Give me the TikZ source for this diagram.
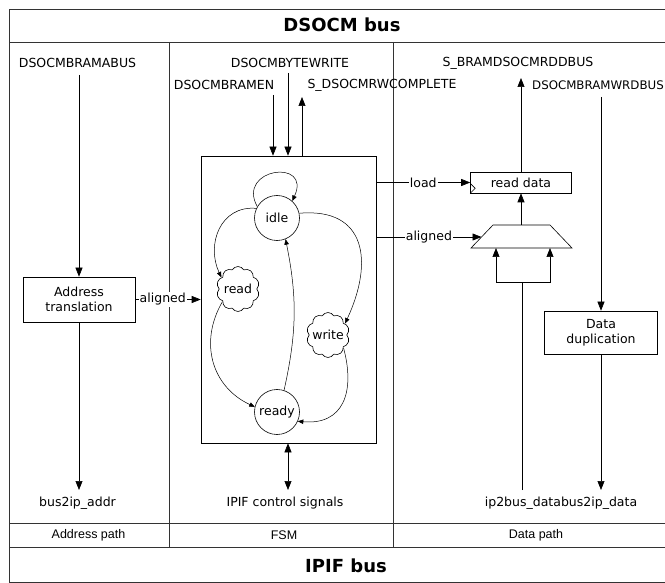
\documentclass[tikz,border=0pt]{standalone}
\usepackage{fontspec}
\setmainfont{DejaVu Sans}
\newfontfamily\arialfont{Liberation Sans}
\usetikzlibrary{arrows.meta,shapes.symbols,calc}
\begin{document}
\begin{tikzpicture}[x=1pt,y=-1pt,
  lbl/.style={font=\fontsize{12.5}{14}\selectfont, inner sep=1pt},
  rowlbl/.style={font=\arialfont\fontsize{12.5}{14}\selectfont, inner sep=1pt},
  titlelbl/.style={font=\bfseries\fontsize{18}{20}\selectfont, inner sep=1pt},
  box/.style={draw, line width=0.6pt, align=center, inner sep=1pt,
    font=\fontsize{12.5}{15}\selectfont},
  state/.style={draw, circle, line width=0.6pt, minimum size=45pt, inner sep=0pt,
    font=\fontsize{12.5}{14}\selectfont},
  cloudst/.style={draw, cloud, cloud puffs=10, cloud puff arc=120, aspect=1,
    minimum width=43pt, minimum height=45pt, inner sep=0pt, line width=0.6pt,
    label={[font=\fontsize{12.5}{14}\selectfont, inner sep=0pt]center:#1}},
  frameline/.style={line width=0.8pt, draw=black!80},
  wire/.style={line width=0.6pt},
  arr/.style={wire, -{Triangle[length=9pt,width=7pt]}},
  dblarr/.style={wire, {Triangle[length=9pt,width=7pt]}-{Triangle[length=9pt,width=7pt]}},
  sarr/.style={line width=0.5pt, -{Triangle[length=5.5pt,width=4.5pt]}},
  tag/.style={font=\fontsize{12.5}{14}\selectfont, fill=white, inner sep=1pt}
]
\useasboundingbox (0,0) rectangle (665,583);

% frame and rows
\draw[frameline] (9,9) rectangle (680,582);
\draw[frameline] (9,42) -- (680,42);
\draw[frameline] (9,523) -- (680,523);
\draw[frameline] (9,547) -- (680,547);
\draw[frameline] (169,42) -- (169,547);
\draw[frameline] (393,42) -- (393,547);

\node[titlelbl] (dsocm) at (342,25) {DSOCM bus};
\node[titlelbl] (ipif) at (346,566) {IPIF bus};

\node[rowlbl] (apath) at (88.5,535) {Address path};
\node[rowlbl] (fsmlbl) at (284,535) {FSM};
\node[rowlbl] (dpath) at (536,535) {Data path};

% top signal labels
\node[lbl] (abus) at (77.5,63) {DSOCMBRAMABUS};
\node[lbl] (bytew) at (290,63) {DSOCMBYTEWRITE};
\node[lbl] (bramen) at (224,85) {DSOCMBRAMEN};
\node[lbl] (rwc) at (382,85) {S\_DSOCMRWCOMPLETE};
\node[lbl] (rdbus) at (518,63) {S\_BRAMDSOCMRDDBUS};
\node[lbl, anchor=west, font=\fontsize{11.8}{14}\selectfont] (wrbus) at (531,85) {DSOCMBRAMWRDBUS};

% bottom signal labels
\node[lbl] (b2ia) at (77.5,503) {bus2ip\_addr};
\node[lbl] (ctl) at (285,503) {IPIF control signals};
\node[lbl] (ipd) at (561,503) {ip2bus\_databus2ip\_data};

% boxes
\node[box, minimum width=112pt, minimum height=45pt] (addr) at (79,299.5) {Address\\translation};
\node[draw, line width=0.6pt, minimum width=175pt, minimum height=287pt, inner sep=0pt] (fsm) at (288.5,299.5) {};
\node[box, minimum width=101pt, minimum height=21pt] (rd) at (521,182.5) {read data};
\node[box, minimum width=113pt, minimum height=43pt] (dd) at (601,332.5) {Data\\duplication};

% register clock mark
\draw[wire] ($(rd.south west)+(0,-10)$) -- ($(rd.south west)+(5,-5)$) -- (rd.south west);

% mux
\coordinate (muxTL) at (493,225);
\coordinate (muxTR) at (550,225);
\coordinate (muxBR) at (572,248);
\coordinate (muxBL) at (471,248);
\coordinate (muxT) at (521,225);
\coordinate (muxL) at (481.5,237);
\coordinate (muxB1) at (496,248);
\coordinate (muxB2) at (550,248);
\draw[wire] (muxTL) -- (muxTR) -- (muxBR) -- (muxBL) -- cycle;

% states
\node[state] (idle) at (277,218) {idle};
\node[state] (ready) at (277,412) {ready};
\node[cloudst=read] (read) at (238,289) {};
\node[cloudst=write] (write) at (328,335) {};

\draw[sarr] (idle.150) .. controls (236,168) and (312,158) .. (idle.48);
\draw[sarr] (idle.155) to[out=175,in=115,looseness=1.2] (read.145);
\draw[sarr] (idle.12) to[out=5,in=65,looseness=1.45] (write.34);
\draw[sarr] (read.219) to[out=240,in=155,looseness=1.1] (ready.167);
\draw[sarr] (write.-40) to[out=-75,in=-5,looseness=1.35] (ready.-24);
\draw[sarr] (ready.72) to[bend right=12] (idle.-68);

% free ends
\coordinate (aTop) at (79,75);
\coordinate (enTop) at (273,95);
\coordinate (bwTop) at (288,73);
\coordinate (rwTop) at (302,97);
\coordinate (rdTop) at (521,78);
\coordinate (wrTop) at (601,97);
\coordinate (aBot) at (79,490);
\coordinate (ctlBot) at (288,490);
\coordinate (ipBot) at (522,490);
\coordinate (bar) at (522,282);
\coordinate (ddBot) at (601,490);

% connectors
\draw[arr] (aTop) -- (addr.north);
\draw[arr] (addr.south) -- (aBot);
\draw[arr] (addr.east) -- node[tag, pos=0.42] {aligned} (fsm.west |- addr.east);
\draw[arr] (enTop) -- (enTop |- fsm.north);
\draw[arr] (bwTop) -- (bwTop |- fsm.north);
\draw[arr] (rwTop |- fsm.north) -- (rwTop);
\draw[dblarr] (ctlBot |- fsm.south) -- (ctlBot);
\draw[arr] (fsm.east |- rd.west) -- node[tag] {load} (rd.west);
\draw[arr] (fsm.east |- muxL) -- node[tag] {aligned} (muxL);
\draw[arr] (muxT) -- (rd.south);
\draw[arr] (rd.north) -- (rdTop);
\draw[wire] (ipBot) -- (bar);
\draw[arr] (bar) -| (muxB1);
\draw[arr] (bar) -| (muxB2);
\draw[arr] (wrTop) -- (dd.north);
\draw[arr] (dd.south) -- (ddBot);
\end{tikzpicture}
\end{document}
